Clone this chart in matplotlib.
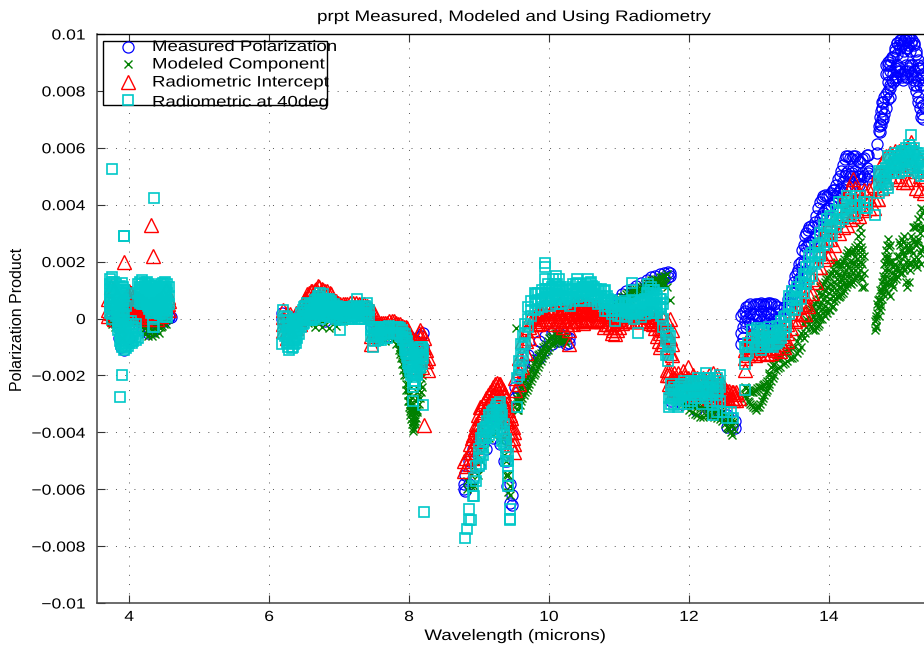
#!/usr/bin/env python3
"""prpt measured, modeled and radiometric polarization product vs wavelength."""

import matplotlib
matplotlib.use("Agg")
import matplotlib.pyplot as plt
from matplotlib.patches import Rectangle
from matplotlib.patheffects import AbstractPathEffect
from matplotlib.transforms import Affine2D

plt.rcParams['font.family'] = ['Liberation Sans', 'DejaVu Sans']

# each row: wavelength, then the readings at that wavelength (units of 1e-3)
measured_rows = [
    (3.75, 0.1, -0.1), (3.8, 0.2, -0.1), (3.85, -0.3, -0.7), (3.88, -0.5, -1.0), (3.92, -0.6, -1.1),
    (4.0, -0.2, -0.7), (4.2, -0.1, -0.4), (4.27, -0.3, -0.5), (4.32, -0.45, -0.3), (4.4, -0.2, 0.0),
    (4.5, 0.05, -0.1), (4.57, 0.05, 0.1), (4.6, 0.05),
    (6.18, 0.2, 0.0), (6.25, 0.1, -0.2), (6.35, 0.05, -0.3), (6.45, 0.0, -0.2), (6.6, 0.0, 0.3),
    (6.8, 0.1, -0.1), (7.0, 0.05), (7.2, 0.1), (7.45, -0.1, -0.3), (7.55, -0.2, -0.5),
    (7.7, -0.3, -0.6), (7.9, -0.5, -0.9), (8.0, -0.6, -1.0), (8.1, -0.8, -1.2), (8.17, -0.6, -1.3),
    (8.2, -0.5, -1.0, -1.5),
    (8.78, -5.8, -6.0), (8.8, -5.5, -6.05), (8.85, -5.0, -5.8), (8.92, -4.6, -5.6), (9.0, -4.3, -5.2),
    (9.1, -3.7, -4.6), (9.2, -3.4, -4.2), (9.3, -3.6, -4.4), (9.35, -4.2, -5.0), (9.4, -5.0, -5.9),
    (9.45, -5.8, -6.5), (9.47, -6.2, -6.55),
    (9.52, -2.4, -2.8), (9.56, -2.0, -2.6), (9.62, -1.6, -2.2), (9.7, -1.3, -1.9), (9.78, -1.1, -1.6),
    (9.86, -0.8, -1.4), (9.95, -0.6, -1.1), (10.05, -0.5, -0.9), (10.15, -0.5, -0.8), (10.24, -0.6, -0.9),
    (10.28, -0.7, -0.85),
    (10.98, 0.5, 0.7), (11.04, 0.6, 0.85), (11.1, 0.7, 0.95), (11.18, 0.85, 1.05), (11.25, 0.9, 1.15),
    (11.32, 1.0, 1.25), (11.4, 1.1, 1.35), (11.46, 1.2, 1.45), (11.52, 1.25, 1.5), (11.58, 1.3, 1.55),
    (11.64, 1.4, 1.6), (11.7, 1.45, 1.65), (11.73, 1.5, 1.6),
    (11.75, -2.4, -2.9), (11.9, -2.6, -3.0), (12.1, -2.8, -3.2), (12.3, -3.0, -3.3), (12.45, -3.1, -3.4),
    (12.55, -3.4, -3.8), (12.62, -3.5, -3.8), (12.66, -3.6, -3.85),
    (12.74, -0.5, -0.9, 0.1), (12.78, 0.2, -0.3, -0.7), (12.82, 0.4, 0.1, -0.3), (12.87, 0.5, 0.2, -0.2),
    (12.92, 0.45, 0.15, -0.2), (12.97, 0.5, 0.1, -0.25), (13.03, 0.55, 0.25, -0.1), (13.08, 0.45, 0.1, -0.3),
    (13.13, 0.55, 0.2, -0.15), (13.18, 0.5, 0.15, -0.2), (13.24, 0.45, 0.2, -0.1), (13.3, 0.3, 0.05),
    (13.36, 0.4, 0.1), (13.42, 0.7, 0.35), (13.47, 1.0, 0.6), (13.52, 1.5, 1.0, 0.6), (13.56, 1.7, 1.2),
    (13.6, 2.0, 1.5), (13.64, 2.6, 2.0), (13.68, 3.0, 2.5), (13.72, 3.2, 2.7), (13.77, 3.2, 2.8),
    (13.82, 3.6, 3.0), (13.87, 4.1, 3.5), (13.92, 4.3, 3.7), (13.97, 4.3, 3.9), (14.03, 4.4, 4.0),
    (14.08, 4.5, 4.1), (14.13, 4.9, 4.4), (14.18, 5.2, 4.6), (14.23, 5.6, 5.0, 4.5), (14.28, 5.7, 5.2, 4.7),
    (14.33, 5.6, 5.1, 4.6), (14.38, 5.7, 5.2, 4.8), (14.43, 5.5, 5.0, 4.7), (14.48, 5.6, 5.1, 4.7),
    (14.54, 5.75, 5.3, 4.9), (14.58, 5.2, 5.0),
    (14.69, 6.15, 5.8), (14.71, 6.6, 6.75), (14.73, 6.85, 7.1, 6.55), (14.76, 7.0, 7.4, 7.6), (14.79, 7.2, 7.8),
    (14.82, 7.4, 7.9, 8.6, 8.9), (14.85, 7.7, 8.3, 8.9), (14.88, 7.8, 8.2, 8.7, 9.1), (14.92, 8.3, 8.6, 9.2),
    (14.95, 8.5, 8.8, 9.5), (14.98, 8.5, 8.9, 9.3, 9.7), (15.01, 8.7, 9.5, 9.8), (15.04, 8.5, 9.2, 9.6),
    (15.07, 8.6, 9.4, 9.8), (15.1, 8.5, 8.9, 9.5, 9.85), (15.13, 8.7, 9.6, 9.9), (15.16, 8.9, 9.4, 9.9),
    (15.19, 8.5, 8.9, 9.8), (15.22, 8.2, 8.7, 9.6), (15.25, 8.0, 8.5, 9.3), (15.28, 7.6, 8.4, 8.9),
    (15.31, 7.1, 7.6, 8.5), (15.34, 7.0, 7.5, 8.2, 8.9), (15.37, 7.4, 8.4),
]

measured_extra = [
    (13.44, 0.8, 0.5), (13.5, 1.3, 0.9), (13.54, 1.6, 1.1), (13.58, 1.9, 1.4), (13.62, 2.4, 1.8),
    (13.66, 2.9, 2.3), (13.7, 3.1, 2.6), (13.74, 3.25, 2.7), (13.8, 3.4, 2.9), (13.85, 3.9, 3.3),
    (13.9, 4.2, 3.6), (13.95, 4.35, 3.8), (14.0, 4.35, 3.9), (14.06, 4.5, 4.1), (14.1, 4.7, 4.3),
    (14.16, 5.0, 4.5), (14.2, 5.4, 4.8), (14.25, 5.7, 5.1), (14.3, 5.65, 5.0), (14.35, 5.7, 5.0),
    (14.4, 5.6, 5.0), (14.45, 5.5, 4.9), (14.5, 5.65, 5.0), (14.56, 5.75, 5.1),
    (14.75, 6.8, 7.3), (14.78, 7.0, 7.6), (14.84, 8.0, 8.6, 9.0), (14.87, 8.1, 8.9), (14.9, 8.4, 9.2),
    (14.94, 8.4, 9.4), (14.97, 8.7, 9.7), (15.0, 8.8, 9.6), (15.03, 8.6, 9.8), (15.06, 8.4, 9.7),
    (15.09, 8.7, 9.8), (15.12, 8.5, 9.5), (15.15, 8.8, 9.85), (15.18, 8.6, 9.7), (15.21, 8.4, 9.7),
    (15.24, 8.2, 9.4), (15.27, 7.8, 8.8, 9.1), (15.3, 7.4, 8.2, 8.8), (15.33, 7.2, 8.6),
    (12.8, 0.25, -0.1), (12.85, 0.45, 0.0), (12.95, 0.5, 0.0), (13.0, 0.5, 0.1), (13.06, 0.5, 0.0),
    (13.1, 0.5, 0.1), (13.16, 0.55, 0.0), (13.21, 0.5, 0.0), (13.27, 0.4, 0.0),
]

modeled_rows = [
    (3.72, 0.0, -0.1), (3.76, -0.1, -0.2), (3.8, -0.2, -0.3), (3.84, -0.15, -0.35), (3.9, -0.4, -0.7),
    (4.2, -0.1, -0.3), (4.25, -0.2, -0.4), (4.3, -0.3, -0.5), (4.35, -0.2, -0.5), (4.4, -0.1, -0.4),
    (4.45, -0.1, -0.3), (4.5, 0.0, -0.2), (4.55, 0.0),
    (6.25, -0.05, -0.2), (6.35, 0.0, -0.2), (6.45, 0.05, -0.15), (6.55, 0.0, -0.15), (6.65, -0.1, -0.3),
    (6.75, -0.1, -0.3), (6.85, -0.1, -0.35), (6.95, -0.1, -0.25), (7.05, 0.0, -0.1),
    (7.55, -0.5, -0.7), (7.65, -0.6, -0.8), (7.75, -0.6, -0.75), (7.82, -0.7, -0.9), (7.86, -0.85, -1.1),
    (7.89, -1.1, -1.4), (7.92, -1.4, -1.8), (7.95, -1.8, -2.3), (7.98, -2.3, -2.7), (8.0, -2.7, -3.1),
    (8.02, -3.0, -3.4), (8.04, -3.3, -3.7), (8.06, -3.6, -3.95), (8.08, -3.3, -3.7), (8.1, -2.9, -3.5),
    (8.12, -2.6, -3.2), (8.15, -2.3, -2.8), (8.19, -2.0, -2.4),
    (8.83, -5.7, -6.0), (8.88, -5.5, -5.9), (8.93, -5.2, -5.9), (8.98, -4.8, -5.5), (9.03, -4.3, -5.0),
    (9.08, -4.0, -4.6), (9.14, -3.6, -4.2), (9.2, -3.5, -4.1), (9.26, -3.4, -4.0), (9.31, -3.7, -4.3),
    (9.35, -4.2, -4.8), (9.39, -5.0, -5.5), (9.42, -5.5, -6.1), (9.44, -5.9, -6.2),
    (9.53, -0.35), (9.54, -2.9, -3.2), (9.56, -2.7, -3.2), (9.6, -2.4, -2.9), (9.64, -2.2, -2.7),
    (9.68, -2.1, -2.5), (9.72, -1.9, -2.3), (9.76, -1.7, -2.1), (9.8, -1.5, -1.9), (9.84, -1.3, -1.7),
    (9.88, -1.2, -1.5), (9.92, -1.0, -1.3), (9.96, -0.9, -1.15), (10.0, -0.7, -1.0), (10.05, -0.6, -0.85),
    (10.1, -0.5, -0.8), (10.15, -0.55, -0.75), (10.2, -0.6, -0.8), (10.25, -0.7, -0.85),
    (10.98, 0.45, 0.65), (11.04, 0.55, 0.75), (11.1, 0.6, 0.85), (11.16, 0.7, 0.95), (11.22, 0.8, 1.0),
    (11.28, 0.85, 1.05), (11.34, 0.95, 1.15), (11.4, 1.0, 1.25), (11.46, 1.1, 1.35), (11.52, 1.15, 1.4),
    (11.58, 1.2, 1.45), (11.64, 1.25, 1.5), (11.68, 1.1, 1.55), (11.73, 0.65),
    (11.9, -2.9, -3.0), (12.0, -3.0, -3.2), (12.08, -3.0, -3.35), (12.16, -3.1, -3.45), (12.24, -3.1, -3.4),
    (12.32, -3.2, -3.4), (12.4, -3.2, -3.5), (12.48, -3.3, -3.6), (12.54, -3.5, -3.8), (12.58, -3.5, -3.9),
    (12.62, -3.75, -4.1), (12.65, -3.6, -3.9),
    (12.8, -2.4, -2.7), (12.84, -2.5, -2.9), (12.88, -2.6, -3.0), (12.92, -2.6, -3.1), (12.96, -2.5, -3.2),
    (13.0, -2.4, -3.1), (13.04, -2.4, -2.9), (13.08, -2.3, -2.7), (13.12, -2.2, -2.5), (13.15, -1.9, -2.3),
    (13.18, -1.7, -2.2), (13.22, -1.6, -2.0), (13.25, -1.4, -1.8), (13.3, -1.4, -1.7), (13.35, -1.2, -1.6),
    (13.4, -1.1, -1.5), (13.45, -1.1, -1.4), (13.5, -1.0, -1.35), (13.55, -0.8, -1.2), (13.6, -0.5, -1.0),
    (13.64, -0.2, -0.7), (13.68, 0.0, -0.3), (13.72, 0.3, -0.2), (13.76, 0.4, -0.35), (13.8, 0.5, 0.0, -0.4),
    (13.84, 0.7, 0.2, -0.25), (13.88, 1.1, 0.5, 0.0), (13.92, 1.2, 0.7, 0.2), (13.96, 1.4, 0.8, 0.3),
    (14.0, 1.5, 0.9, 0.3), (14.04, 1.6, 1.0, 0.4), (14.08, 1.9, 1.3, 0.6), (14.12, 2.0, 1.4, 0.8),
    (14.16, 1.8, 1.3, 0.8), (14.2, 2.0, 1.5, 0.9), (14.24, 2.2, 1.7, 1.1), (14.28, 2.4, 1.8, 1.3),
    (14.32, 2.3, 1.7, 1.2), (14.36, 2.4, 1.9, 1.4), (14.4, 2.6, 2.1, 1.5), (14.44, 3.2, 2.7, 2.2, 1.7),
    (14.48, 2.4, 1.9, 1.4, 1.1), (14.66, -0.4, -0.1), (14.68, 0.1, -0.3), (14.7, 0.4, 0.65),
    (14.73, 0.6, 1.0, 0.3), (14.76, 1.0, 1.3, 0.7), (14.79, 1.4, 1.9, 1.1), (14.82, 2.0, 2.4, 1.0, 1.5),
    (14.85, 2.8, 2.2, 1.7, 0.9), (14.88, 2.6, 2.0, 1.4, 0.8), (14.92, 1.8, 1.4, 1.1), (14.96, 1.7, 1.4),
    (15.0, 2.7, 2.2, 1.7), (15.04, 2.8, 2.4, 1.6), (15.08, 2.9, 2.2, 1.7), (15.12, 2.4, 1.8, 1.1),
    (15.16, 2.6, 2.0, 1.7), (15.2, 3.2, 2.8, 2.3), (15.24, 3.2, 2.6, 1.9), (15.28, 3.5, 2.8, 2.1),
    (15.32, 3.9, 3.2, 2.4, 1.9), (15.36, 3.8, 3.2, 2.5),
]

modeled_extra = [
    (4.22, -0.15, -0.35, -0.55), (4.27, -0.2, -0.45, -0.6), (4.32, -0.2, -0.4, -0.6), (4.37, -0.15, -0.35, -0.55),
    (4.42, -0.1, -0.3, -0.5), (4.47, -0.05, -0.25), (4.52, -0.05, -0.2),
    (7.87, -1.0, -1.25), (7.9, -1.3, -1.6), (7.93, -1.6, -2.0), (7.96, -2.0, -2.5), (7.99, -2.5, -2.9),
    (8.01, -2.85, -3.25), (8.03, -3.15, -3.55), (8.05, -3.45, -3.85), (8.07, -3.5, -3.9), (8.09, -3.1, -3.6),
    (8.11, -2.8, -3.3), (8.14, -2.5, -3.0), (8.17, -2.1, -2.6), (8.0, -2.9), (8.05, -3.2, -3.6), (8.1, -3.2),
    (9.55, -2.8, -3.0), (9.58, -2.55, -3.05), (9.62, -2.3, -2.8), (9.66, -2.15, -2.6), (9.7, -2.0, -2.4),
    (9.74, -1.8, -2.2), (9.78, -1.6, -2.0), (9.82, -1.4, -1.8), (9.86, -1.25, -1.6), (9.9, -1.1, -1.4),
    (9.94, -0.95, -1.25), (9.98, -0.8, -1.1), (10.03, -0.65, -0.9), (10.08, -0.55, -0.85), (10.13, -0.5, -0.8),
    (10.18, -0.6, -0.75), (10.23, -0.65, -0.8),
    (11.01, 0.5, 0.7), (11.07, 0.6, 0.8), (11.13, 0.65, 0.9), (11.19, 0.75, 1.0), (11.25, 0.8, 1.05),
    (11.31, 0.9, 1.1), (11.37, 1.0, 1.2), (11.43, 1.05, 1.3), (11.49, 1.15, 1.35), (11.55, 1.2, 1.4),
    (11.61, 1.25, 1.45), (11.66, 1.2, 1.5),
    (11.95, -3.0, -3.1), (12.04, -3.05, -3.3), (12.12, -3.05, -3.4), (12.2, -3.1, -3.45), (12.28, -3.15, -3.4),
    (12.36, -3.2, -3.45), (12.44, -3.25, -3.55), (12.51, -3.4, -3.7), (12.56, -3.5, -3.85), (12.6, -3.6, -4.0),
    (12.82, -2.45, -2.8), (12.86, -2.55, -2.95), (12.9, -2.6, -3.05), (12.94, -2.55, -3.15), (12.98, -2.45, -3.1),
    (13.02, -2.4, -3.0), (13.06, -2.35, -2.8), (13.1, -2.25, -2.6), (13.14, -2.0, -2.4), (13.2, -1.65, -2.1),
    (13.28, -1.4, -1.75), (13.38, -1.15, -1.55), (13.48, -1.05, -1.4), (13.58, -0.65, -1.1), (13.66, -0.1, -0.5),
    (13.74, 0.35, 0.0, -0.25), (13.78, 0.45, 0.1, -0.4), (13.82, 0.6, 0.25, -0.1, -0.3), (13.86, 0.9, 0.4, 0.1, -0.2),
    (13.9, 1.15, 0.85, 0.35, 0.0), (13.94, 1.3, 0.95, 0.45, 0.1), (13.98, 1.45, 1.1, 0.6, 0.2), (14.02, 1.55, 1.2, 0.7, 0.3),
    (14.06, 1.75, 1.15, 0.8, 0.45), (14.1, 1.95, 1.6, 1.0, 0.7), (14.14, 1.9, 1.55, 1.1, 0.75), (14.18, 1.9, 1.4, 1.1, 0.85),
    (14.22, 2.1, 1.6, 1.25, 1.0), (14.26, 2.3, 1.9, 1.5, 1.2), (14.3, 2.35, 2.0, 1.5, 1.25), (14.34, 2.35, 2.0, 1.6, 1.3),
    (14.38, 2.5, 2.2, 1.7, 1.45), (14.42, 2.9, 2.4, 1.9, 1.6), (14.46, 3.0, 2.5, 2.0, 1.45), (14.5, 2.2, 1.6, 1.1),
    (14.67, -0.25, 0.0), (14.69, 0.2, 0.5), (14.71, 0.7, 0.1), (14.74, 0.9, 0.45), (14.77, 1.15, 1.5, 0.85), (14.8, 1.7, 2.2, 1.25),
    (14.83, 2.6, 2.1, 1.3), (14.86, 2.5, 2.0, 1.2), (14.9, 2.0, 1.6, 1.2), (14.94, 1.9, 1.55), (14.98, 2.2, 1.8, 1.5),
    (15.02, 2.6, 2.0, 1.6), (15.06, 2.7, 2.3, 1.8), (15.1, 2.6, 2.0, 1.3), (15.14, 2.4, 1.9, 1.3), (15.18, 2.9, 2.4, 1.9),
    (15.22, 3.2, 2.7, 2.1), (15.26, 3.3, 2.7, 1.8), (15.3, 3.6, 3.0, 2.3), (15.34, 3.7, 3.1, 2.5),
]

intercept_rows = [
    (3.7, 0.7, 0.3, 0.1), (3.74, 1.1, 0.6, 0.2), (3.78, 1.0, 0.5, 0.0), (3.82, 0.8, 0.4), (3.87, 0.6, 0.2),
    (3.92, 2.0, 0.7, 0.3), (3.97, 0.8, 0.4, 0.1), (4.02, 0.9, 0.5, 0.1), (4.07, 0.7, 0.3, 0.0),
    (4.12, 0.7, 0.4, 0.1), (4.17, 0.6, 0.2), (4.22, 0.5, 0.2, 0.0), (4.27, 0.4, 0.1),
    (4.31, 3.3, 0.5, 0.1), (4.34, 2.2, 0.5, 0.2), (4.4, 0.6, 0.3, 0.0), (4.46, 0.7, 0.4, 0.1),
    (4.52, 1.0, 0.6, 0.3), (4.57, 0.6, 0.3),
    (6.2, 0.3, 0.05, -0.2, -0.45), (6.25, 0.2, -0.1, -0.4, -0.7), (6.3, 0.15, -0.1, -0.45), (6.38, 0.2, 0.0, -0.35),
    (6.44, 0.3, 0.1, -0.2), (6.5, 0.6, 0.35, 0.1), (6.54, 0.85, 0.55, 0.2), (6.6, 0.95, 0.6, 0.25),
    (6.65, 1.0, 0.7, 0.3), (6.7, 1.15, 0.8, 0.4), (6.75, 1.05, 0.7, 0.35), (6.8, 0.95, 0.6, 0.3),
    (6.87, 0.9, 0.6, 0.25), (6.92, 0.7, 0.4, 0.15), (6.98, 0.55, 0.3, 0.1), (7.05, 0.5, 0.3), (7.12, 0.5, 0.3),
    (7.2, 0.55, 0.35), (7.28, 0.5, 0.3), (7.36, 0.5, 0.2), (7.42, 0.4, 0.15), (7.48, 0.25, 0.05),
    (7.45, -0.6, -0.9), (7.5, -0.4, -0.7), (7.55, -0.2, -0.5), (7.6, -0.15, -0.4), (7.66, -0.15, -0.4),
    (7.72, -0.1, -0.4), (7.78, -0.1, -0.35), (7.84, -0.2, -0.45), (7.9, -0.25, -0.5), (7.95, -0.3, -0.6),
    (7.99, -0.5, -0.9, -1.3), (8.02, -0.8, -1.2, -1.6), (8.06, -1.0, -1.4), (8.1, -0.8, -1.2, -1.7),
    (8.14, -0.5, -0.9, -1.4), (8.16, -0.4, -0.7, -1.1, -1.5), (8.18, -0.5, -0.9, -1.3, -1.7),
    (8.21, -0.7, -1.0, -1.5, -3.75), (8.24, -1.1, -1.5), (8.27, -1.4, -1.8),
    (8.78, -5.35, -5.0), (8.82, -4.9, -5.2), (8.87, -4.4, -4.7, -5.1), (8.92, -4.1, -4.5, -4.9),
    (8.96, -3.7, -4.1, -4.5), (9.01, -3.1, -3.5, -4.0), (9.05, -3.0, -3.3, -3.7), (9.1, -2.8, -3.1, -3.5),
    (9.15, -2.6, -2.9, -3.3), (9.2, -2.4, -2.7, -3.1), (9.25, -2.25, -2.5, -2.9), (9.3, -2.3, -2.7, -3.1),
    (9.34, -2.5, -2.9, -3.3), (9.38, -2.8, -3.2, -3.6), (9.42, -3.2, -3.6, -4.0), (9.46, -3.5, -4.0, -4.4),
    (9.5, -4.0, -4.4, -4.7),
    (9.52, -2.5, -2.1), (9.57, -2.3, -1.8, -1.4), (9.62, -1.7, -1.2, -0.8), (9.67, -1.2, -0.8, -0.4),
    (9.72, -0.7, -0.3, 0.0), (9.77, -0.4, 0.05), (9.84, -0.2, 0.1, 0.3), (9.9, -0.1, 0.2, 0.4),
    (9.96, 0.0, 0.2, 0.5), (10.02, -0.1, 0.2, 0.4), (10.08, -0.2, 0.1, 0.4), (10.14, -0.1, 0.2, 0.5),
    (10.2, -0.3, 0.0, 0.35), (10.29, -0.9, -0.4, 0.1, 0.4), (10.34, -0.2, 0.1, 0.5), (10.4, -0.1, 0.2, 0.5),
    (10.44, -0.1, 0.25, 0.55), (10.49, -0.15, 0.2, 0.5), (10.54, 0.0, 0.3, 0.5), (10.6, -0.1, 0.2, 0.45),
    (10.66, -0.1, 0.15, 0.4), (10.72, 0.0, 0.2, 0.4), (10.78, -0.3, 0.0, 0.3), (10.84, -0.2, 0.1, 0.3),
    (10.9, -0.5, -0.2, 0.1), (10.94, -0.55, -0.3, 0.0), (11.0, -0.3, 0.0, 0.2), (11.08, -0.1, 0.1, 0.3),
    (11.16, -0.1, 0.1), (11.24, -0.1, 0.15), (11.32, -0.1, 0.1), (11.4, -0.1, 0.1, 0.2), (11.48, -0.2, 0.0, 0.2),
    (11.55, -0.6, -0.2, 0.1), (11.59, -1.0, -0.5, -0.1), (11.63, -0.9, -0.4, 0.0), (11.68, -1.0, -0.6, -0.1),
    (11.73, -1.2, -0.7, 0.0), (11.76, -1.3, -0.9, -0.4), (11.68, -2.0, -1.8), (11.72, -2.3, -2.0, -1.8),
    (11.78, -2.5, -2.1, -1.9), (11.84, -2.6, -2.2, -1.9), (11.92, -2.6, -2.2, -1.85), (11.99, -2.5, -2.1, -1.7),
    (12.06, -2.7, -2.3, -2.0), (12.12, -2.7, -2.3, -2.1), (12.2, -2.7, -2.4, -2.1), (12.28, -2.8, -2.4, -2.0),
    (12.34, -2.8, -2.4, -1.9), (12.4, -2.8, -2.4, -2.0), (12.46, -2.8, -2.5, -2.2), (12.52, -2.8, -2.5),
    (12.58, -2.85, -2.55), (12.63, -2.85, -2.6), (12.68, -2.85, -2.6), (12.72, -2.8),
    (12.8, -1.8, -1.4, -1.1), (12.84, -1.3, -1.0, -0.7), (12.88, -1.2, -0.9, -0.6), (12.94, -1.3, -1.0, -0.7),
    (13.0, -1.2, -0.9, -0.6), (13.06, -1.2, -0.85, -0.55), (13.12, -1.25, -0.9, -0.6), (13.18, -1.2, -0.85, -0.6),
    (13.24, -1.1, -0.8, -0.5), (13.3, -1.15, -0.8, -0.5), (13.36, -1.0, -0.7, -0.4), (13.4, -0.8, -0.5, -0.2),
    (13.46, -0.35, 0.0), (13.52, -0.1, 0.2), (13.58, 0.0, 0.4), (13.62, 0.15, 0.5), (13.66, 0.15, 0.5, 0.8),
    (13.7, 0.45, 0.9), (13.76, 0.9, 1.4), (13.82, 1.3, 1.8), (13.88, 1.8, 2.3, 2.8), (13.93, 2.1, 2.6, 3.0),
    (13.97, 2.2, 2.8, 3.2), (14.02, 2.3, 2.8, 3.3), (14.08, 2.6, 3.1, 3.5), (14.14, 3.0, 3.5), (14.2, 3.2, 3.7, 4.2),
    (14.26, 3.3, 3.8, 4.3), (14.3, 3.5, 4.0, 4.6), (14.34, 3.6, 4.1, 4.9), (14.38, 3.7, 4.2, 4.6), (14.43, 3.6, 4.0, 4.4),
    (14.5, 3.8, 4.2, 4.5), (14.58, 3.9, 4.2, 4.5), (14.64, 3.9, 4.2, 4.7), (14.7, 4.2, 4.6, 5.1),
    (14.76, 4.6, 5.1, 5.5), (14.82, 4.8, 5.2, 5.7), (14.88, 5.0, 5.4, 5.8), (14.94, 5.0, 5.5, 5.9),
    (15.0, 4.9, 5.4, 5.9), (15.06, 4.8, 5.3, 5.9), (15.12, 4.8, 5.4, 6.0), (15.18, 4.9, 5.5, 6.2), (15.24, 4.6, 5.2, 5.8),
    (15.3, 4.5, 5.0, 5.6), (15.36, 4.4, 4.9, 5.4),
]

intercept_extra = [
    (3.95, 0.75, 0.55, 0.35, 0.15), (3.98, 0.85, 0.6, 0.35, 0.15), (4.0, 0.95, 0.7, 0.45, 0.2), (4.03, 0.9, 0.65, 0.4, 0.15),
    (4.05, 0.8, 0.55, 0.3, 0.1), (4.08, 0.75, 0.5, 0.25, 0.05), (4.1, 0.7, 0.5, 0.25, 0.05), (4.14, 0.65, 0.4, 0.2),
    (4.19, 0.6, 0.35, 0.1), (4.24, 0.5, 0.25, 0.05), (4.29, 0.45, 0.2), (4.36, 0.5, 0.25), (4.43, 0.65, 0.35),
    (4.49, 0.8, 0.5, 0.25), (4.55, 0.75, 0.5),
    (6.52, 0.7, 0.45, 0.15), (6.57, 0.9, 0.6, 0.3), (6.62, 0.95, 0.65, 0.3), (6.67, 1.05, 0.75, 0.4), (6.72, 1.1, 0.8, 0.45),
    (6.77, 1.0, 0.7, 0.4), (6.83, 0.95, 0.65, 0.35), (6.89, 0.85, 0.55, 0.25), (6.95, 0.6, 0.35, 0.15), (7.02, 0.5, 0.3),
    (7.08, 0.5, 0.3), (7.16, 0.55, 0.3), (7.24, 0.55, 0.3), (7.32, 0.5, 0.25), (7.4, 0.45, 0.2), (7.45, 0.35, 0.1),
    (7.53, -0.25, -0.5), (7.58, -0.2, -0.45), (7.63, -0.15, -0.4), (7.69, -0.15, -0.4), (7.75, -0.1, -0.35),
    (7.81, -0.15, -0.4), (7.87, -0.2, -0.45), (7.93, -0.3, -0.55), (7.97, -0.35, -0.6),
    (8.9, -4.2, -4.6), (8.94, -3.9, -4.3), (8.99, -3.4, -3.8), (9.03, -3.1, -3.5), (9.08, -2.9, -3.2), (9.13, -2.7, -3.0),
    (9.18, -2.5, -2.8), (9.23, -2.3, -2.6), (9.28, -2.3, -2.6), (9.32, -2.4, -2.8), (9.36, -2.7, -3.0), (9.4, -3.0, -3.4),
    (9.44, -3.4, -3.8), (9.48, -3.8, -4.2),
    (9.81, -0.2, 0.15), (9.87, -0.15, 0.2), (9.93, 0.0, 0.3), (9.99, 0.0, 0.3), (10.05, -0.1, 0.25), (10.11, -0.1, 0.25),
    (10.17, -0.2, 0.25), (10.23, -0.1, 0.2, 0.4), (10.26, -0.2, 0.1, 0.4), (10.31, -0.1, 0.2, 0.4), (10.37, -0.1, 0.15, 0.45),
    (10.42, -0.1, 0.2, 0.5), (10.47, -0.05, 0.25, 0.5), (10.52, 0.0, 0.25, 0.5), (10.57, -0.05, 0.2, 0.45), (10.63, -0.1, 0.2, 0.45),
    (10.69, -0.05, 0.2, 0.4), (10.75, -0.1, 0.15, 0.35), (10.81, -0.2, 0.1, 0.3), (10.87, -0.3, 0.0, 0.25), (10.92, -0.4, -0.15, 0.1),
    (10.97, -0.4, -0.1, 0.15), (11.04, -0.15, 0.1, 0.25), (11.12, -0.1, 0.1, 0.2), (11.2, -0.1, 0.1), (11.28, -0.1, 0.1),
    (11.36, -0.1, 0.1), (11.44, -0.15, 0.05, 0.2), (11.52, -0.35, -0.1, 0.1), (11.57, -0.8, -0.35),
    (11.75, -2.4, -2.15), (11.81, -2.45, -2.15), (11.88, -2.5, -2.1), (11.95, -2.45, -2.05), (12.02, -2.6, -2.2),
    (12.09, -2.6, -2.25), (12.16, -2.6, -2.25), (12.24, -2.7, -2.3), (12.31, -2.7, -2.3), (12.37, -2.7, -2.3), (12.43, -2.7, -2.35),
    (12.49, -2.8, -2.5), (12.55, -2.8, -2.55), (12.61, -2.8, -2.6), (12.66, -2.8, -2.65),
    (12.91, -1.1, -0.8), (12.97, -1.1, -0.8), (13.03, -1.05, -0.75), (13.09, -1.05, -0.75), (13.15, -1.05, -0.75),
    (13.21, -1.05, -0.75), (13.27, -1.0, -0.7), (13.33, -0.9, -0.6),
]

radiometric40_rows = [
    (3.72, 1.4, 1.0, 0.6, 0.2), (3.75, 5.25, 1.45, 1.15, 0.8, 0.4, 0.0), (3.78, 1.3, 0.9, 0.5, 0.15),
    (3.81, 1.2, 0.85, 0.45, 0.1), (3.84, 1.1, 0.7, 0.3, -0.1, -0.4), (3.87, -2.75, 1.15, 0.8, 0.4, 0.0, -0.45, -0.8),
    (3.9, -2.0, 1.25, 0.9, 0.5, 0.1, -0.3, -0.7, -1.0), (3.92, 2.9, 2.9, 1.0, 0.6, 0.15, -0.2, -0.6, -1.1),
    (3.95, 0.9, 0.45, -0.2, -0.5, -0.8, -1.05), (3.98, -0.1, -0.4, -0.7, -0.95), (4.02, -0.1, -0.45, -0.8),
    (4.06, -0.2, -0.55, -0.8), (4.1, -0.2, -0.45, -0.75), (4.13, 1.2, 0.9, 0.6, -0.7),
    (4.16, 1.3, 1.0, 0.7), (4.19, 1.35, 1.05, 0.75, 0.5), (4.22, 1.25, 0.95, 0.65),
    (4.25, 1.3, 1.0, 0.7, 0.5), (4.28, 1.2, 0.9, 0.6, 0.35), (4.31, 1.15, 0.85, 0.55, 0.2), (4.34, 1.0, 0.7, 0.4, 0.0, -0.3),
    (4.36, 4.25, 1.1, 0.8, 0.5, 0.2, -0.3), (4.39, 1.15, 0.85, 0.55, 0.25), (4.42, 1.1, 0.8, 0.5, 0.2), (4.45, 1.2, 0.9, 0.6, 0.3),
    (4.48, 1.25, 0.95, 0.65, 0.35, 0.1), (4.51, 1.3, 1.0, 0.7, 0.4, 0.05), (4.54, 1.2, 0.9, 0.6, 0.3, 0.05), (4.57, 1.1, 0.8, 0.5),
    (6.2, 0.3, -0.1, -0.5), (6.23, 0.1, -0.3, -0.6), (6.18, -0.9), (6.26, 0.05, -0.25, -0.55, -0.85), (6.29, -0.1, -0.4, -0.7, -1.1),
    (6.32, -0.1, -0.4, -0.75, -1.05), (6.35, -0.05, -0.35, -0.65, -0.9), (6.38, 0.0, -0.3, -0.6, -0.85), (6.42, 0.0, -0.25, -0.55),
    (6.46, 0.2, -0.05, -0.3), (6.5, 0.4, 0.1, -0.15), (6.54, 0.55, 0.3, 0.0), (6.58, 0.5, 0.25, 0.0), (6.62, 0.5, 0.2, -0.05),
    (6.66, 0.65, 0.35, 0.05), (6.7, 0.8, 0.5, 0.2), (6.73, 0.9, 0.6, 0.3, 0.0), (6.77, 0.85, 0.55, 0.25), (6.81, 0.7, 0.4, 0.15),
    (6.85, 0.7, 0.4, 0.1), (6.89, 0.6, 0.35, 0.1), (6.93, 0.5, 0.25, 0.05), (6.97, 0.45, 0.25, 0.05), (7.01, 0.4, 0.2, 0.0, -0.4),
    (7.05, 0.4, 0.2, 0.0), (7.09, 0.35, 0.15, 0.0), (7.13, 0.35, 0.15, 0.0), (7.17, 0.4, 0.2, 0.0), (7.21, 0.45, 0.25, 0.05),
    (7.25, 0.7, 0.3, 0.1), (7.29, 0.4, 0.2, 0.0), (7.33, 0.4, 0.2, 0.0), (7.37, 0.45, 0.2, 0.0), (7.4, 0.55, 0.3, 0.05),
    (7.43, 0.3, 0.05), (7.46, -0.4, -0.6), (7.48, -0.3, -0.6, -1.0), (7.52, -0.3, -0.55, -0.8), (7.56, -0.3, -0.5, -0.75),
    (7.6, -0.35, -0.55, -0.75), (7.64, -0.3, -0.5, -0.7), (7.68, -0.3, -0.5, -0.7), (7.72, -0.25, -0.5), (7.78, -0.3, -0.5),
    (7.84, -0.3, -0.55), (7.9, -0.4, -0.65), (7.94, -0.55, -0.8, -1.1), (7.97, -0.8, -1.05, -1.35), (8.0, -1.1, -1.4, -1.7),
    (8.03, -1.4, -1.7, -2.0), (8.06, -1.7, -2.0, -2.4, -2.9), (8.09, -1.4, -1.8, -2.2), (8.12, -1.1, -1.5, -1.9), (8.15, -1.0, -1.3, -1.7),
    (8.18, -1.0, -1.3, -1.6), (8.2, -1.1, -1.4, -3.05), (8.22, -6.8),
    (8.8, -7.7), (8.83, -7.4), (8.86, -6.7, -7.1), (8.88, -7.1), (8.91, -6.25, -5.9), (8.93, -6.25, -5.6), (8.96, -5.2, -5.7),
    (9.0, -4.6, -5.2), (9.03, -4.2, -4.7, -5.1), (9.06, -3.9, -4.3, -4.8), (9.1, -3.8, -4.2), (9.14, -3.4, -3.8, -4.1),
    (9.18, -3.3, -3.6, -4.0), (9.22, -3.2, -3.6, -4.0), (9.26, -3.0, -3.4, -3.9), (9.3, -2.95, -3.3, -3.8), (9.33, -3.4, -3.9, -4.3),
    (9.36, -4.0, -4.4), (9.39, -4.5, -5.0), (9.42, -5.0, -5.55, -5.9), (9.44, -6.7, -7.05, -7.1),
    (9.55, -3.1, -2.1), (9.57, -2.0, -1.5, -1.8), (9.6, -1.7, -1.3, -0.9), (9.63, -1.4, -1.0, -0.6), (9.66, -0.9, -0.5, -0.2),
    (9.7, -0.3, 0.0, 0.4), (9.75, 0.6, 0.3, 0.1), (9.8, 0.9, 0.6, 0.3), (9.85, 0.9, 0.65, 0.35), (9.9, 1.0, 0.7, 0.4),
    (9.94, 1.95, 1.8, 1.4, 1.0, 0.6), (9.98, 1.2, 0.9, 0.6), (10.02, 1.0, 0.7, 0.45), (10.06, 1.4, 1.0, 0.7), (10.1, 1.5, 1.1, 0.8, 0.5),
    (10.14, 1.4, 0.95, 0.65), (10.18, 1.0, 0.75, 0.5), (10.24, 1.1, 0.8, 0.55), (10.3, 1.0, 0.7, 0.45), (10.35, 1.2, 0.85, 0.6),
    (10.4, 1.4, 1.05, 0.75), (10.45, 1.2, 0.95, 0.65), (10.5, 1.1, 0.85, 0.6), (10.56, 1.4, 1.1, 0.8), (10.6, 1.3, 1.0, 0.7),
    (10.65, 1.1, 0.85, 0.6), (10.7, 1.0, 0.75, 0.5), (10.75, 1.05, 0.8, 0.55), (10.8, 1.0, 0.75, 0.45, 0.25), (10.85, 0.7, 0.45, 0.25),
    (10.9, 0.6, 0.4, 0.15), (10.94, 0.5, 0.25, -0.1), (10.98, 0.55, 0.3, 0.1), (11.03, 0.55, 0.3, 0.1), (11.08, 0.6, 0.35, 0.1),
    (11.12, 0.5, 0.25, 0.05), (11.18, 1.25, 1.0, 0.45, 0.15), (11.22, 0.5, 0.25, 0.0), (11.27, 0.55, 0.2, -0.5), (11.32, 0.6, 0.3, 0.05),
    (11.37, 0.7, 0.4, 0.15), (11.42, 1.2, 0.9, 0.6, 0.3), (11.46, 1.1, 0.8, 0.5, 0.2), (11.5, 1.0, 0.75, 0.5, 0.2), (11.55, 0.8, 0.5, 0.2),
    (11.6, 0.7, 0.4, 0.1), (11.63, 0.9, 0.5, 0.0, -0.3), (11.67, -0.4, -0.8, -1.3), (11.7, -0.5, -0.9, -1.2, -1.5), (11.73, -0.6, -1.0),
    (11.71, -2.8, -3.1), (11.75, -2.3, -2.7, -3.0), (11.79, -2.4, -2.7, -3.05), (11.84, -2.5, -2.8, -3.1), (11.88, -2.3, -2.6, -3.0),
    (11.93, -2.2, -2.5, -2.9), (11.98, -2.3, -2.6, -3.0), (12.03, -2.2, -2.6, -2.9), (12.08, -2.2, -2.5, -2.8), (12.13, -2.1, -2.5, -2.8),
    (12.18, -2.2, -2.6, -3.0), (12.24, -1.9, -2.4, -2.8), (12.3, -2.1, -2.5, -2.9), (12.35, -2.2, -2.6, -3.0, -3.4), (12.4, -2.1, -2.5, -2.9, -3.3),
    (12.44, -2.0, -2.4, -2.9), (12.5, -3.3), (12.55, -3.3, -3.5), (12.6, -3.3), (12.63, -3.5),
    (12.8, -2.5, -1.6, -1.0), (12.82, -1.0, -1.3), (12.85, -1.2, -0.85), (12.9, -1.0, -0.7, -0.4), (12.97, -0.9, -0.6, -0.35),
    (13.03, -1.1, -0.8, -0.5), (13.08, -1.0, -0.7, -0.4), (13.14, -0.9, -0.65, -0.3), (13.2, -1.0, -0.7, -0.45), (13.26, -0.85, -0.55, -0.25),
    (13.31, -0.7, -0.4, -0.1), (13.36, -0.55, -0.3, 0.05), (13.39, 0.1, -0.3), (13.43, 0.8, 0.45, 0.15), (13.47, 0.95, 0.7, 0.35),
    (13.51, 0.95, 0.65, 0.3), (13.55, 1.1, 0.75, 0.45), (13.6, 1.3, 1.0, 0.7), (13.64, 1.55, 1.2, 0.9), (13.68, 1.8, 1.5, 1.2),
    (13.72, 2.2, 1.8, 1.4), (13.76, 2.3, 2.0, 1.5), (13.8, 2.5, 2.2, 1.9), (13.84, 2.6, 2.3, 2.0), (13.88, 3.0, 2.6, 2.2),
    (13.93, 3.3, 2.9, 2.6), (13.97, 3.5, 3.1, 2.7), (14.01, 3.6, 3.2, 2.9), (14.05, 3.6, 3.3, 2.9), (14.1, 3.8, 3.5, 3.2),
    (14.14, 4.1, 3.7, 3.4), (14.2, 4.1, 3.8, 3.5), (14.26, 4.3, 4.0, 3.6), (14.32, 4.2, 3.9, 3.6), (14.38, 4.3, 4.0, 3.7),
    (14.44, 4.3, 4.0), (14.5, 4.1, 3.9), (14.55, 4.1, 3.9), (14.66, 3.65), (14.72, 5.2, 4.8, 4.4), (14.78, 5.2, 4.9, 4.5),
    (14.82, 5.3, 5.0, 4.7), (14.85, 5.7, 5.3, 4.6), (14.9, 5.7, 5.4, 5.1), (14.95, 5.8, 5.5, 5.1), (15.0, 5.7, 5.4, 5.1),
    (15.05, 5.9, 5.6, 5.2), (15.1, 6.0, 5.6, 5.2), (15.14, 6.1, 5.7, 5.3), (15.18, 6.45, 5.9, 5.5), (15.22, 6.0, 5.7, 5.3),
    (15.27, 5.8, 5.5, 5.1), (15.32, 5.6, 5.3, 5.0), (15.36, 5.7, 5.3, 5.0),
]

radiometric40_extra = [
    (3.73, 1.2, 0.8, 0.4), (3.76, 1.3, 0.95, 0.6, 0.2), (3.79, 1.1, 0.7, 0.35), (3.83, 1.0, 0.6, 0.25), (3.86, 0.95, 0.55, 0.15, -0.25),
    (3.88, 1.0, 0.6, 0.2, -0.2, -0.6, -0.9), (3.91, 1.1, 0.7, 0.3, -0.1, -0.5, -0.85), (3.94, -0.35, -0.7, -0.95), (3.96, -0.3, -0.6, -0.9),
    (4.0, -0.2, -0.55, -0.85), (4.04, -0.3, -0.6, -0.85), (4.08, -0.35, -0.65), (4.15, 1.1, 0.85, 0.55), (4.18, 1.2, 0.9, 0.6),
    (4.21, 1.1, 0.8, 0.5), (4.24, 1.15, 0.85, 0.55), (4.27, 1.05, 0.75, 0.45), (4.3, 1.0, 0.7, 0.4), (4.33, 1.05, 0.8, 0.5, 0.25),
    (4.38, 1.0, 0.7, 0.4), (4.41, 0.95, 0.65, 0.35), (4.44, 1.05, 0.75, 0.45, 0.15), (4.47, 1.1, 0.8, 0.5, 0.2), (4.5, 1.15, 0.85, 0.55, 0.25), (4.53, 1.05, 0.75, 0.45, 0.15),
    (6.27, -0.2, -0.45, -0.75, -1.0), (6.3, -0.25, -0.55, -0.85), (6.34, -0.2, -0.5, -0.8, -1.0), (6.37, -0.15, -0.45, -0.75), (6.4, -0.15, -0.4, -0.7),
    (6.48, 0.3, 0.05, -0.2), (6.52, 0.45, 0.2, -0.05), (6.56, 0.45, 0.2, 0.0), (6.6, 0.4, 0.15, -0.05), (6.64, 0.55, 0.3, 0.05), (6.68, 0.7, 0.45, 0.15),
    (6.72, 0.75, 0.45, 0.2), (6.75, 0.7, 0.45, 0.15), (6.79, 0.65, 0.35, 0.1), (6.83, 0.65, 0.35, 0.1), (6.87, 0.55, 0.3, 0.05), (6.91, 0.45, 0.2, 0.05),
    (6.95, 0.4, 0.2, 0.0), (6.99, 0.35, 0.15), (7.03, 0.35, 0.15), (7.07, 0.3, 0.1), (7.11, 0.3, 0.1), (7.15, 0.35, 0.15), (7.19, 0.35, 0.15),
    (7.23, 0.35, 0.15), (7.27, 0.35, 0.15), (7.31, 0.3, 0.1), (7.35, 0.35, 0.1), (7.39, 0.4, 0.15),
    (7.5, -0.35, -0.6), (7.54, -0.35, -0.6), (7.58, -0.4, -0.6), (7.62, -0.35, -0.55), (7.66, -0.35, -0.55), (7.7, -0.3, -0.5), (7.75, -0.3, -0.5), (7.81, -0.3, -0.5),
    (7.87, -0.35, -0.6), (7.92, -0.5, -0.75), (7.96, -0.7, -0.95, -1.2), (7.99, -0.95, -1.25, -1.55), (8.02, -1.25, -1.55, -1.85), (8.05, -1.5, -1.85, -2.2),
    (8.08, -1.5, -1.9, -2.3), (8.11, -1.2, -1.6, -2.0), (8.14, -1.05, -1.4, -1.75), (8.17, -1.0, -1.3),
    (9.0, -4.9), (9.05, -4.1, -4.5), (9.08, -3.85, -4.2), (9.12, -3.6, -4.0), (9.16, -3.4, -3.7), (9.2, -3.25, -3.6), (9.24, -3.1, -3.5), (9.28, -3.0, -3.35),
    (9.32, -3.2, -3.6), (9.35, -3.7, -4.1), (9.38, -4.25, -4.7), (9.41, -4.75, -5.2),
    (9.82, 0.85, 0.55), (9.88, 0.9, 0.6), (9.96, 1.05, 0.75), (10.0, 1.05, 0.75), (10.04, 1.1, 0.8), (10.08, 1.2, 0.85), (10.12, 1.2, 0.85), (10.16, 1.1, 0.8),
    (10.21, 1.0, 0.7), (10.27, 1.05, 0.75), (10.33, 1.05, 0.75), (10.38, 1.2, 0.9), (10.42, 1.25, 0.95), (10.47, 1.1, 0.8), (10.53, 1.2, 0.9), (10.58, 1.25, 0.95),
    (10.62, 1.15, 0.85), (10.67, 1.05, 0.75), (10.72, 1.0, 0.7), (10.78, 0.95, 0.65), (10.83, 0.8, 0.55), (10.88, 0.65, 0.4), (10.92, 0.55, 0.3),
    (11.0, 0.5, 0.25), (11.05, 0.55, 0.3), (11.1, 0.55, 0.3), (11.15, 0.5, 0.2), (11.2, 0.6, 0.3), (11.25, 0.5, 0.2), (11.3, 0.55, 0.25), (11.35, 0.65, 0.35),
    (11.4, 0.9, 0.6, 0.3), (11.44, 1.0, 0.7, 0.4), (11.48, 1.0, 0.7, 0.35), (11.53, 0.85, 0.55, 0.25), (11.58, 0.7, 0.4),
    (11.77, -2.5, -2.8), (11.81, -2.5, -2.85), (11.86, -2.4, -2.75), (11.91, -2.3, -2.65), (11.96, -2.3, -2.7), (12.01, -2.3, -2.7), (12.06, -2.25, -2.6),
    (12.11, -2.2, -2.6), (12.16, -2.25, -2.7), (12.21, -2.1, -2.5), (12.27, -2.1, -2.6), (12.33, -2.3, -2.7), (12.38, -2.3, -2.7), (12.42, -2.2, -2.6),
    (13.0, -1.0, -0.7, -0.45), (13.06, -1.0, -0.7, -0.45), (13.11, -0.95, -0.7), (13.17, -0.95, -0.7), (13.23, -0.9, -0.6), (13.29, -0.8, -0.5),
    (14.74, 5.1, 4.7), (14.8, 5.2, 4.8), (14.88, 5.6, 5.2), (14.93, 5.6, 5.3), (14.98, 5.7, 5.3), (15.03, 5.8, 5.4), (15.08, 5.9, 5.5), (15.12, 5.9, 5.5),
    (15.16, 6.0, 5.6), (15.2, 5.9, 5.5), (15.25, 5.8, 5.4), (15.3, 5.6, 5.2), (15.34, 5.6, 5.2),
]

x_ticks = [4, 6, 8, 10, 12, 14]
y_ticks = [-0.01, -0.008, -0.006, -0.004, -0.002, 0, 0.002, 0.004, 0.006, 0.008, 0.01]
y_tick_labels = ['\u22120.01', '\u22120.008', '\u22120.006', '\u22120.004', '\u22120.002', '0',
                 '0.002', '0.004', '0.006', '0.008', '0.01']

W, H = 924, 646


class StretchX(AbstractPathEffect):
    """Widen text about a pixel column, the original's text was resampled wider."""

    def __init__(self, k, x0):
        super().__init__()
        self.k = k
        self.x0 = x0

    def draw_path(self, renderer, gc, tpath, affine, rgbFace=None):
        stretch = Affine2D().translate(-self.x0, 0).scale(self.k, 1).translate(self.x0, 0)
        renderer.draw_path(gc, tpath, affine + stretch, rgbFace)


def expand(rows):
    xs, ys = [], []
    for row in rows:
        for val in row[1:]:
            xs.append(row[0])
            ys.append(val * 1e-3)
    return xs, ys


series = [
    (measured_rows + measured_extra, 'Measured Polarization',
     dict(marker='o', ms=8.0, mec='#0000ff', mew=0.9)),
    (modeled_rows + modeled_extra, 'Modeled Component',
     dict(marker='x', ms=5.8, mec='#008000', mew=1.0)),
    (intercept_rows + intercept_extra, 'Radiometric Intercept',
     dict(marker='^', ms=9.8, mec='#ff0000', mew=1.0)),
    (radiometric40_rows + radiometric40_extra, 'Radiometric at 40deg',
     dict(marker='s', ms=6.6, mec='#00c8c8', mew=1.2)),
]

fig = plt.figure(figsize=(W / 100, H / 100), dpi=100)
ax = fig.add_axes([97 / W, 1 - 603 / H, 1 - 97 / W, (603 - 34) / H])

for rows, label, style in series:
    xs, ys = expand(rows)
    ax.plot(xs, ys, ls='none', mfc='none', **style)

ax.set_xlim(3.54, 15.36)
ax.set_ylim(-0.01, 0.01)
ax.set_xticks(x_ticks)
ax.set_yticks(y_ticks)
ax.set_yticklabels(y_tick_labels)
ax.tick_params(direction='in', length=5.5, width=0.8, top=True, labelsize=10.5, color='#333333')
ax.tick_params(axis='y', pad=8)
ax.tick_params(axis='x', pad=5)
ax.grid(True, color='#555555', lw=0.7, ls=(0, (1, 8.5)))
ax.set_axisbelow(True)
ax.spines['right'].set_visible(False)
for name in ('left', 'bottom'):
    ax.spines[name].set_color('#444444')
    ax.spines[name].set_linewidth(1.1)
ax.spines['top'].set_linewidth(1.0)

for lab in ax.get_yticklabels():
    lab.set_path_effects([StretchX(1.2, 86)])
for tick_val, lab in zip(x_ticks, ax.get_xticklabels()):
    lab.set_path_effects([StretchX(1.2, ax.transData.transform((tick_val, 0))[0])])

title = fig.text(513.5 / W, 1 - 17 / H, 'prpt Measured, Modeled and Using Radiometry',
                 ha='center', va='center', fontsize=11)
title.set_path_effects([StretchX(1.227, 513.5)])
xlab = fig.text(515 / W, 1 - 636 / H, 'Wavelength (microns)', ha='center', va='center', fontsize=11)
xlab.set_path_effects([StretchX(1.227, 515)])
fig.text(18 / W, 1 - 319 / H, 'Polarization Product', rotation=90, ha='center', va='center', fontsize=11.5)

# legend box is narrower than its text in the original, so it is laid out by hand
fig.add_artist(Rectangle((103 / W, 1 - 105 / H), 224 / W, 63.5 / H, transform=fig.transFigure,
                         fc='white', ec='black', lw=1.0))
for (rows, label, style), y_px, text_y_px in zip(series, [46.5, 64, 82, 99.5], [47, 64.5, 82.5, 102.5]):
    fig.add_artist(plt.Line2D([127.7 / W], [1 - y_px / H], transform=fig.transFigure,
                              ls='none', mfc='none', **style))
    leg_text = fig.text(152 / W, 1 - text_y_px / H, label, ha='left', va='center', fontsize=11)
    leg_text.set_path_effects([StretchX(1.218, 152)])

fig.savefig('out.png', dpi=100)
